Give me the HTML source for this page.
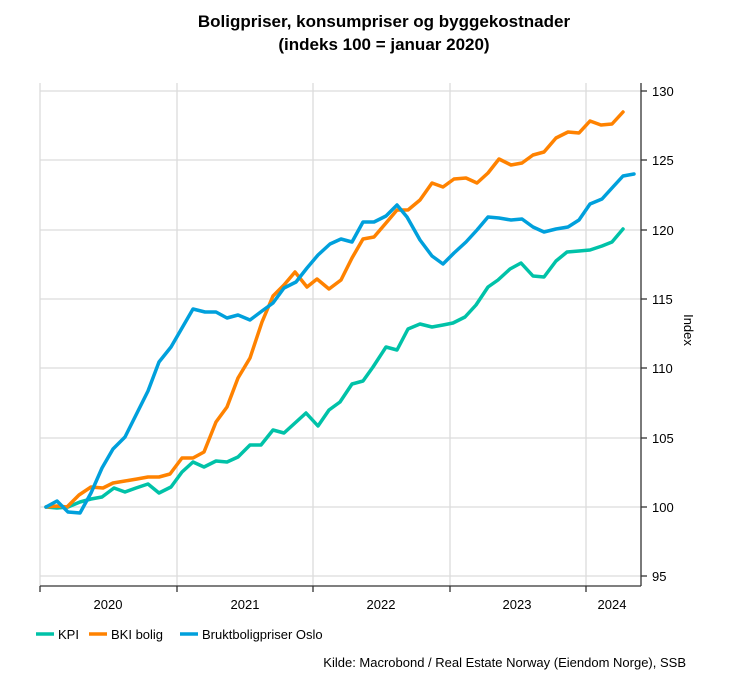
<!DOCTYPE html>
<html><head><meta charset="utf-8"><style>
body{margin:0;background:#fff;}
svg text{font-family:"Liberation Sans",Arial,sans-serif;fill:#000;}
</style></head><body>
<svg width="750" height="672" viewBox="0 0 750 672" xmlns="http://www.w3.org/2000/svg">
<text x="384" y="27" font-size="17" font-weight="bold" text-anchor="middle">Boligpriser, konsumpriser og byggekostnader</text>
<text x="384" y="50" font-size="17" font-weight="bold" text-anchor="middle">(indeks 100 = januar 2020)</text>
<g stroke="#dcdcdc" stroke-width="1.3">
<line x1="40" x2="641" y1="91" y2="91"/><line x1="40" x2="641" y1="160" y2="160"/><line x1="40" x2="641" y1="230" y2="230"/><line x1="40" x2="641" y1="299" y2="299"/><line x1="40" x2="641" y1="368" y2="368"/><line x1="40" x2="641" y1="438" y2="438"/><line x1="40" x2="641" y1="507" y2="507"/><line x1="40" x2="641" y1="576" y2="576"/>
<line x1="40" x2="40" y1="83" y2="586"/><line x1="177" x2="177" y1="83" y2="586"/><line x1="313" x2="313" y1="83" y2="586"/><line x1="450" x2="450" y1="83" y2="586"/><line x1="586" x2="586" y1="83" y2="586"/>
</g>
<g stroke="#333" stroke-width="1.3">
<line x1="641" x2="641" y1="83" y2="586"/>
<line x1="40" x2="641" y1="586" y2="586"/>
<line x1="641" x2="647" y1="91" y2="91"/><line x1="641" x2="647" y1="160" y2="160"/><line x1="641" x2="647" y1="230" y2="230"/><line x1="641" x2="647" y1="299" y2="299"/><line x1="641" x2="647" y1="368" y2="368"/><line x1="641" x2="647" y1="438" y2="438"/><line x1="641" x2="647" y1="507" y2="507"/><line x1="641" x2="647" y1="576" y2="576"/>
<line x1="40" x2="40" y1="586" y2="592"/><line x1="177" x2="177" y1="586" y2="592"/><line x1="313" x2="313" y1="586" y2="592"/><line x1="450" x2="450" y1="586" y2="592"/><line x1="586" x2="586" y1="586" y2="592"/>
</g>
<g font-size="13">
<text x="652" y="96">130</text><text x="652" y="165">125</text><text x="652" y="235">120</text><text x="652" y="304">115</text><text x="652" y="373">110</text><text x="652" y="443">105</text><text x="652" y="512">100</text><text x="652" y="581">95</text>
<text x="108" y="609" text-anchor="middle">2020</text><text x="245" y="609" text-anchor="middle">2021</text><text x="381" y="609" text-anchor="middle">2022</text><text x="517" y="609" text-anchor="middle">2023</text><text x="612" y="609" text-anchor="middle">2024</text>
<text transform="translate(684,330) rotate(90)" text-anchor="middle">Index</text>
</g>
<g fill="none" stroke-width="3.5" stroke-linejoin="round" stroke-linecap="round">
<polyline stroke="#00c2a8" points="46,507 57,508 68,507 80,502 91,499 102,497 114,488 125,492 136,488 148,484 159,493 171,487 182,472 193,462 204,467 216,461 227,462 238,457 250,445 261,445 273,430 284,433 295,423 306,413 318,426 329,410 340,402 352,384 363,381 373,367 386,347 397,350 408,329 420,324 432,327 443,325 453,323 465,317 476,305 488,287 498,280 510,269 521,263 533,276 544,277 556,261 567,252 579,251 590,250 602,246 612,242 623,229"/>
<polyline stroke="#ff8200" points="46,507 57,506 67,507 79,495 91,487 103,488 113,483 125,481 137,479 148,477 159,477 170,474 182,458 193,458 204,452 216,422 227,407 238,378 250,358 262,322 273,296 284,285 295,272 307,287 317,279 329,289 341,280 352,258 363,239 374,237 386,223 397,210 408,210 420,200 432,183 443,187 454,179 466,178 477,183 488,173 499,159 511,165 522,163 533,155 544,152 556,138 568,132 579,133 590,121 601,125 612,124 623,112"/>
<polyline stroke="#00a0dc" points="46,507 57,501 68,512 80,513 91,493 102,468 113,449 125,437 137,413 148,391 159,362 171,347 182,328 193,309 205,312 216,312 227,318 238,315 250,320 262,311 273,303 284,288 296,282 307,268 318,255 330,244 341,239 352,242 363,222 374,222 386,216 397,205 407,217 420,240 432,256 443,264 454,253 466,242 477,230 488,217 499,218 511,220 522,219 533,227 544,232 556,229 568,227 579,220 590,204 602,199 612,188 623,176 634,174"/>
</g>
<g font-size="13">
<line x1="36" x2="54" y1="634" y2="634" stroke="#00c2a8" stroke-width="3.5"/><text x="58" y="639">KPI</text>
<line x1="89" x2="107" y1="634" y2="634" stroke="#ff8200" stroke-width="3.5"/><text x="111" y="639">BKI bolig</text>
<line x1="180" x2="198" y1="634" y2="634" stroke="#00a0dc" stroke-width="3.5"/><text x="202" y="639">Bruktboligpriser Oslo</text>
<text x="686" y="667" text-anchor="end">Kilde: Macrobond / Real Estate Norway (Eiendom Norge), SSB</text>
</g>
</svg>
</body></html>
